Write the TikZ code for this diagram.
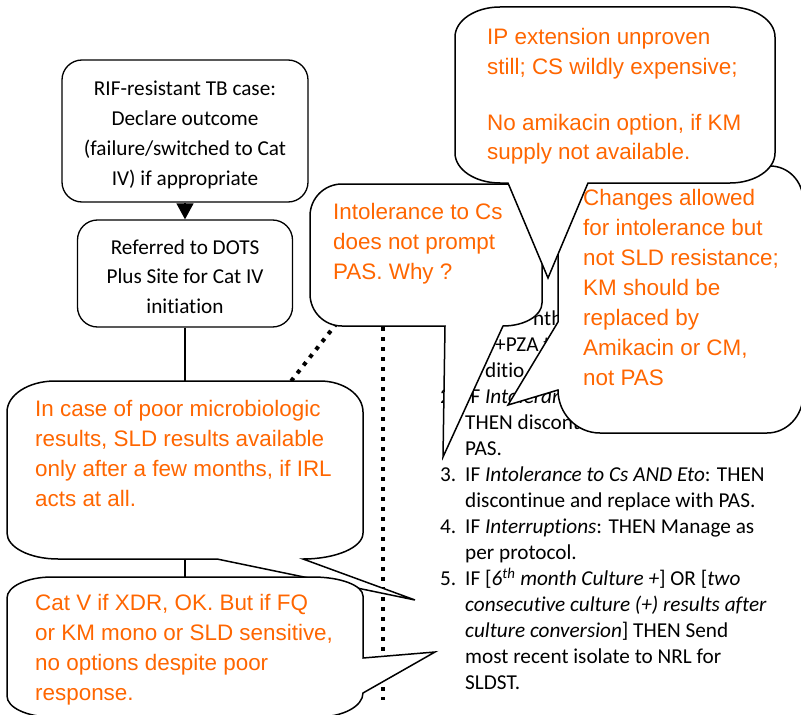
\documentclass[tikz,border=0pt]{standalone}
\usepackage{fontspec}
\setmainfont{Carlito}[Ligatures=NoCommon]
\newfontfamily\notefont{Liberation Sans}
\usetikzlibrary{arrows.meta}
\definecolor{noteorange}{RGB}{255,102,0}
\tikzset{
  flowbox/.style={draw, line width=1.3bp, rounded corners=20bp, align=center, inner sep=0pt, font=\fontsize{21.3}{30}\selectfont},
  flowline/.style={line width=1.3bp},
  callout/.style={draw, fill=white, line width=1.5bp},
  notetext/.style={anchor=base west, inner sep=0pt, align=left, text=noteorange, font=\notefont\fontsize{22.5}{30}\selectfont},
  listtext/.style={anchor=base west, inner sep=0pt, align=left, font=\fontsize{21.3}{26}\selectfont},
  dotline/.style={line width=4bp, dash pattern=on 4bp off 6bp},
}
\begin{document}
\begin{tikzpicture}[x=1bp, y=-1bp]
\useasboundingbox (0,0) rectangle (801,715);

% Rules list (partly hidden by the callouts); multi-line nodes sit on their last line
\node[listtext] (r1a) at (533,325.5) {nth};
\node[listtext] (r1b) at (495,351.5) {+PZA t};
\node[listtext] (r1c) at (485,377.5) {ditio};
\node[listtext] (n2) at (440,403.5) {2.};
\node[listtext] (r2) at (465,455.5) {IF \textit{Intoleran}\\THEN discont\\PAS.};
\node[listtext] (n3) at (440,481.5) {3.};
\node[listtext] (r3) at (465,507.5) {IF \textit{Intolerance to Cs AND Eto}: THEN\\discontinue and replace with PAS.};
\node[listtext] (n4) at (440,533.5) {4.};
\node[listtext] (r4) at (465,559.5) {IF \textit{Interruptions}: THEN Manage as\\per protocol.};
\node[listtext] (n5) at (440,585.5) {5.};
\node[listtext] (r5) at (465,689.5) {IF [\textit{6\textsuperscript{th} month Culture +}] OR [\textit{two}\\\textit{consecutive culture (+) results after}\\\textit{culture conversion}] THEN Send\\most recent isolate to NRL for\\SLDST.};

% Flow boxes
\node[flowbox, minimum width=246bp, minimum height=142bp] (rif) at (185,131) {\rule{0pt}{22bp}RIF-resistant TB case:\\Declare outcome\\(failure/switched to Cat\\IV) if appropriate};
\node[flowbox, minimum width=215bp, minimum height=107bp] (dots) at (185,273.5) {\rule{0pt}{21bp}Referred to DOTS\\Plus Site for Cat IV\\initiation};
\coordinate (flowend) at (185,715);
\draw[flowline, -{Triangle[length=16bp,width=17bp]}] (rif) -- (dots);
\draw[flowline] (dots) -- (flowend);

% Dotted links
\coordinate (diagA) at (337,323);
\coordinate (diagB) at (288,385);
\draw[dotline] (diagA) -- (diagB);
\coordinate (vertA) at (383,327);
\coordinate (vertB) at (383,700);
\draw[dotline] (vertA) -- (vertB);

% Callout: Cs intolerance
\draw[callout] (310,216) arc[start angle=180, end angle=270, radius=32] -- (510,184)
  arc[start angle=270, end angle=360, radius=32] -- (542,303)
  arc[start angle=0, end angle=90, x radius=39, y radius=23] -- (443,457) -- (445,326) -- (342,326)
  arc[start angle=90, end angle=180, radius=32] -- cycle;
\node[notetext] (csnote) at (333,279) {Intolerance to Cs\\does not prompt\\PAS. Why ?};

% Callout: changes allowed
\draw[callout] (558,202) arc[start angle=180, end angle=270, radius=36] -- (770,166)
  arc[start angle=270, end angle=360, x radius=33, y radius=34] -- (803,395)
  arc[start angle=0, end angle=90, x radius=36, y radius=38] -- (600,433)
  arc[start angle=90, end angle=180, x radius=42, y radius=43] -- (508,405) -- (558,322) -- cycle;
\node[notetext] (kmnote) at (583,385) {Changes allowed\\for intolerance but\\not SLD resistance;\\KM should be\\replaced by\\Amikacin or CM,\\not PAS};

% Callout: IP extension
\draw[callout] (455,37) arc[start angle=180, end angle=270, x radius=45, y radius=30] -- (730,7)
  arc[start angle=270, end angle=360, x radius=45, y radius=30] -- (775,153)
  arc[start angle=0, end angle=90, x radius=45, y radius=30] -- (588,183) -- (548,278) -- (508,183) -- (500,183)
  arc[start angle=90, end angle=180, x radius=45, y radius=30] -- cycle;
\node[notetext] (ipnote) at (487,160) {IP extension unproven\\still; CS wildly expensive;\\[26bp]No amikacin option, if KM\\supply not available.};

% Callout: poor microbiology
\draw[callout] (7,412) arc[start angle=180, end angle=270, x radius=48, y radius=31] -- (320,381)
  arc[start angle=270, end angle=360, x radius=43, y radius=31] -- (363,533)
  arc[start angle=0, end angle=90, x radius=60, y radius=26] -- (415,600) -- (217,559) -- (58,559)
  arc[start angle=90, end angle=180, x radius=51, y radius=26] -- cycle;
\node[notetext] (irlnote) at (35,506) {In case of poor microbiologic\\results, SLD results available\\only after a few months, if IRL\\acts at all.};

% Callout: Cat V
\draw[callout] (7,598) arc[start angle=180, end angle=270, x radius=45, y radius=21] -- (313,577)
  arc[start angle=270, end angle=360, x radius=50, y radius=19] -- (363,658) -- (435,652) -- (363,693)
  arc[start angle=0, end angle=90, x radius=45, y radius=24] -- (52,717)
  arc[start angle=90, end angle=180, x radius=45, y radius=21] -- cycle;
\node[notetext] (xdrnote) at (35,700) {Cat V if XDR, OK. But if FQ\\or KM mono or SLD sensitive,\\no options despite poor\\response.};
\end{tikzpicture}
\end{document}
